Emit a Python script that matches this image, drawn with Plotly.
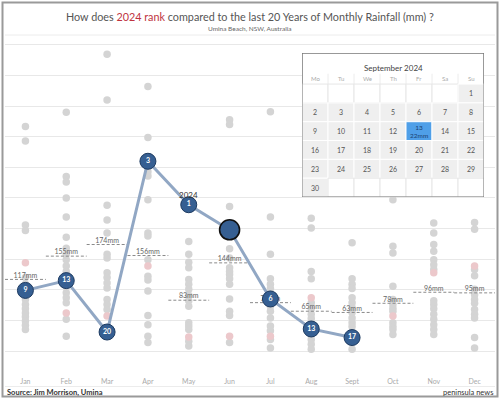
import calendar
import plotly.graph_objects as go

# ---------------- data ----------------
months = ["Jan", "Feb", "Mar", "Apr", "May", "Jun", "Jul", "Aug", "Sept", "Oct", "Nov", "Dec"]
avg_mm = [117, 155, 174, 156, 83, 144, 79, 65, 63, 78, 96, 95]
avg_labels = ["117mm", "155mm", "174mm", "156mm", "83mm", "144mm", "79mm", "65mm", "63mm", "78mm", "96mm", "95mm"]
rain_2024 = [99, 115, 31, 310, 239, 198, 85, 36, 22, None, None, None]
rank_2024 = ["9", "13", "20", "3", "1", "", "6", "13", "17", "", "", ""]

hist_jan = [367, 343, 206, 197, 120, 109, 92, 84, 76, 69, 62, 56, 49, 42, 35]
hist_feb = [390, 285, 276, 250, 219, 186, 168, 158, 149, 139, 130, 106, 95, 87, 79, 52, 24]
hist_mar = [485, 410, 238, 214, 193, 158, 152, 128, 120, 111, 103, 84, 76, 68]
hist_apr = [432, 349, 293, 286, 247, 193, 188, 149, 122, 116, 98, 58, 43, 24, 14]
hist_may = [179, 158, 145, 136, 117, 109, 101, 91, 82, 73, 46, 41, 35, 16, 8]
hist_jun = [378, 370, 236, 167, 152, 136, 130, 125, 118, 109, 85, 65, 58, 14]
hist_jul = [391, 219, 158, 118, 109, 102, 73, 65, 54, 41, 33, 19, 5]
hist_aug = [217, 201, 130, 118, 79, 69, 60, 53, 43, 30, 19, 11, 3]
hist_sep = [177, 118, 109, 102, 87, 79, 71, 63, 54, 46, 40, 3]
hist_oct = [247, 171, 160, 106, 84, 76, 70, 65, 46, 40, 35, 27]
hist_nov = [209, 193, 174, 163, 149, 141, 133, 82, 76, 69, 60, 52, 43, 35, 27]
hist_dec = [210, 199, 133, 123, 101, 92, 84, 78, 68, 60, 54, 22, 5]
hist_by_month = [hist_jan, hist_feb, hist_mar, hist_apr, hist_may, hist_jun,
                 hist_jul, hist_aug, hist_sep, hist_oct, hist_nov, hist_dec]
pink_mm = [144, 62, 57, 139, 23, 24, 24, 87, None, 57, 128, 139]

cal_year, cal_month = 2024, 9
cal_title = "September 2024"
weekday_names = ["Mo", "Tu", "We", "Th", "Fr", "Sa", "Su"]
highlight_day = 13
highlight_text = "22mm"

FONT = "Lato"

# ---------------- figure ----------------
fig = go.Figure()

gx, gy = [], []
for i, vals in enumerate(hist_by_month):
    gx += [i] * len(vals)
    gy += vals
fig.add_trace(go.Scatter(x=gx, y=gy, mode="markers",
                         marker=dict(size=7.5, color="#d4d4d4"), hoverinfo="skip", showlegend=False))

px_, py_ = [], []
for i, v in enumerate(pink_mm):
    if v is not None:
        px_.append(i)
        py_.append(v)
fig.add_trace(go.Scatter(x=px_, y=py_, mode="markers",
                         marker=dict(size=7.5, color="#ecc8cb"), hoverinfo="skip", showlegend=False))

# average dashed lines
lx, ly = [], []
for i, v in enumerate(avg_mm):
    lx += [i - 0.5, i + 0.5, None]
    ly += [v, v, None]
fig.add_trace(go.Scatter(x=lx, y=ly, mode="lines",
                         line=dict(color="#8a8a8a", width=1, dash="3px,2px"),
                         hoverinfo="skip", showlegend=False))
fig.add_trace(go.Scatter(x=list(range(12)), y=avg_mm, mode="text", text=avg_labels,
                         textposition="top center",
                         textfont=dict(family=FONT, size=7, color="#666"),
                         hoverinfo="skip", showlegend=False))

# 2024 line
idx = [i for i, v in enumerate(rain_2024) if v is not None]
xs = idx
ys = [rain_2024[i] for i in idx]
txt = [rank_2024[i] for i in idx]
sizes = [20 if rank_2024[i] == "" else 16 for i in idx]
lcols = ["#111111" if rank_2024[i] == "" else "#1d3a60" for i in idx]
lwid = [1.6 if rank_2024[i] == "" else 1 for i in idx]
fig.add_trace(go.Scatter(x=xs, y=ys, mode="lines+markers+text", text=txt,
                         textposition="middle center",
                         textfont=dict(family=FONT, size=7, color="white", weight="bold"),
                         line=dict(color="#91a7c4", width=3),
                         marker=dict(size=sizes, color="#365f92", opacity=1,
                                     line=dict(color=lcols, width=lwid)),
                         hoverinfo="skip", showlegend=False))

fig.add_annotation(x=4, y=rain_2024[4], text="2024", showarrow=False, yshift=10, yanchor="middle",
                   font=dict(family=FONT, size=8, color="#333"))

# ---------------- calendar inset ----------------
weeks = calendar.Calendar(firstweekday=0).monthdayscalendar(cal_year, cal_month)
nrows = len(weeks)
head = 1.65
shapes = []
shapes.append(dict(type="rect", xref="x2", yref="y2", x0=0.09, x1=7.09, y0=-head + 0.1, y1=nrows + 0.11,
                   fillcolor="#6e6e6e", line=dict(width=0), layer="above"))
shapes.append(dict(type="rect", xref="x2", yref="y2", x0=0, x1=7, y0=-head, y1=nrows,
                   fillcolor="white", line=dict(color="#777", width=1), layer="above"))
for c in range(1, 7):
    shapes.append(dict(type="line", xref="x2", yref="y2", x0=c, x1=c, y0=-0.55, y1=0,
                       line=dict(color="#ececec", width=1), layer="above"))
for r, wk in enumerate(weeks):
    for c, d in enumerate(wk):
        if d == 0:
            fill, lc = "white", "#e6e6e6"
        elif d == highlight_day:
            fill, lc = "#4f9fe8", "white"
        else:
            fill, lc = "#efefef", "white"
        shapes.append(dict(type="rect", xref="x2", yref="y2", x0=c, x1=c + 1, y0=r, y1=r + 1,
                           fillcolor=fill, line=dict(color=lc, width=1), layer="above"))
        if d:
            if d == highlight_day:
                fig.add_annotation(xref="x2", yref="y2", x=c + 0.5, y=r + 0.5, yanchor="middle",
                                   text=f"{d}<br>{highlight_text}", showarrow=False,
                                   font=dict(family=FONT, size=6.5, color="#1d3f70"))
            else:
                fig.add_annotation(xref="x2", yref="y2", x=c + 0.5, y=r + 0.5, text=str(d), yanchor="middle",
                                   showarrow=False, font=dict(family=FONT, size=7, color="#555"))
shapes.append(dict(type="rect", xref="x2", yref="y2", x0=0, x1=7, y0=-head, y1=nrows,
                   fillcolor="rgba(0,0,0,0)", line=dict(color="#777", width=1), layer="above"))
for c, nm in enumerate(weekday_names):
    fig.add_annotation(xref="x2", yref="y2", x=c + 0.5, y=-0.28, text=nm, showarrow=False, yanchor="middle",
                       font=dict(family=FONT, size=6, color="#aaa"))
fig.add_annotation(xref="x2", yref="y2", x=3.5, y=-0.86, text=cal_title, showarrow=False, yanchor="middle",
                   font=dict(family=FONT, size=8, color="#444"))

# ---------------- page furniture ----------------
W, H = 500, 399
ml, mr, mt, mb = 5, 5, 38, 27
pw, ph = W - ml - mr, H - mt - mb


def pxx(x):
    return (x - ml) / pw


def pyy(y):
    return (H - mb - y) / ph


shapes.append(dict(type="rect", xref="paper", yref="paper", x0=pxx(2.5), x1=pxx(497.5),
                   y0=pyy(396.5), y1=pyy(2.5), line=dict(color="#9a9a9a", width=2),
                   fillcolor="rgba(0,0,0,0)", layer="above"))
shapes.append(dict(type="line", xref="paper", yref="paper", x0=0, x1=1, y0=pyy(35), y1=pyy(35),
                   line=dict(color="#ececec", width=1), layer="below"))
shapes.append(dict(type="line", xref="paper", yref="paper", x0=0, x1=1, y0=pyy(386.5), y1=pyy(386.5),
                   line=dict(color="#ececec", width=1), layer="below"))

fig.add_annotation(xref="paper", yref="paper", x=0.5, y=pyy(16), yanchor="middle",
                   text="How does <span style='color:#c0343f'>2024 rank</span> compared to the last 20 Years of Monthly Rainfall (mm) ?",
                   showarrow=False, font=dict(family=FONT, size=10.8, color="#555"))
fig.add_annotation(xref="paper", yref="paper", x=0.5, y=pyy(28), yanchor="middle", text="Umina Beach, NSW, Australia",
                   showarrow=False, font=dict(family=FONT, size=6.5, color="#666"))
fig.add_annotation(xref="paper", yref="paper", x=0, y=pyy(392), xanchor="left", yanchor="middle",
                   text="<b>Source: Jim Morrison, Umina</b>", showarrow=False,
                   font=dict(family=FONT, size=7.5, color="#333"))
fig.add_annotation(xref="paper", yref="paper", x=1, y=pyy(392), xanchor="right", yanchor="middle",
                   text="peninsula news", showarrow=False,
                   font=dict(family=FONT, size=7.5, color="#333"))

fig.update_layout(
    width=W, height=H,
    margin=dict(l=ml, r=mr, t=mt, b=mb),
    paper_bgcolor="white", plot_bgcolor="white",
    shapes=shapes,
    xaxis=dict(range=[-0.5, 11.5], tickvals=list(range(12)), ticktext=months, showgrid=False,
               zeroline=False, showline=False, ticks="", tickfont=dict(family=FONT, size=7, color="#aaa"),
               ticklabelstandoff=4, fixedrange=True),
    yaxis=dict(range=[-34.3, 511.4], tick0=0, dtick=50, showticklabels=False, showgrid=True,
               gridcolor="#e8e8e8", gridwidth=1, zeroline=False, showline=False, fixedrange=True),
    xaxis2=dict(domain=[pxx(302), pxx(484)], range=[0, 7], visible=False, anchor="y2", fixedrange=True),
    yaxis2=dict(domain=[pyy(197), pyy(53)], range=[nrows, -head], visible=False, anchor="x2", fixedrange=True),
    showlegend=False,
)

fig.write_html("out.html", config={"displayModeBar": False},
               post_script="document.body.style.margin='0';document.body.style.overflow='hidden';")
